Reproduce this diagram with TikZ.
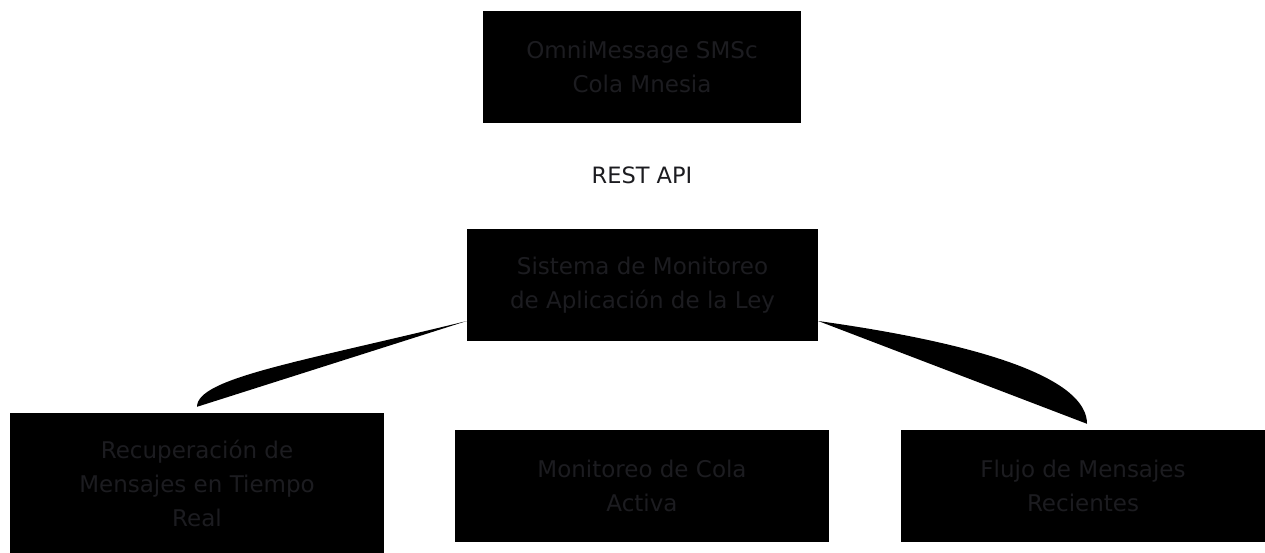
\documentclass[tikz,border=0pt]{standalone}
\usepackage{fontspec}
\setmainfont{DejaVu Sans}
\definecolor{txt}{RGB}{28,28,32}
\begin{document}
\begin{tikzpicture}[x=1pt,y=-1pt,
  box/.style={fill=black,draw=none,inner sep=0pt,align=center,text=txt,
    font=\fontsize{23}{34}\selectfont},
  lbl/.style={inner sep=0pt,text=txt,font=\fontsize{22.5}{34}\selectfont},
  flow/.style={fill=black,draw=none}]
\useasboundingbox (0,0) rectangle (1265,553);
\node[box,minimum width=318pt,minimum height=112pt] (top) at (642,67) {OmniMessage SMSc\\Cola Mnesia};
\node[lbl] (api) at (642,175) {REST API};
\node[box,minimum width=351pt,minimum height=112pt] (mid) at (642.5,285) {Sistema de Monitoreo\\de Aplicación de la Ley};
\node[box,minimum width=374pt,minimum height=140pt] (bl) at (197,483) {Recuperación de\\Mensajes en Tiempo\\Real};
\node[box,minimum width=374pt,minimum height=112pt] (bm) at (642,486) {Monitoreo de Cola\\Activa};
\node[box,minimum width=364pt,minimum height=112pt] (br) at (1083,486) {Flujo de Mensajes\\Recientes};
\fill[flow] ([yshift=-36pt]mid.west) .. controls (300,362) and (197,378) .. ([yshift=6pt]bl.north) -- cycle;
\fill[flow] ([yshift=-36pt]mid.east) .. controls (990,345) and (1087,380) .. ([xshift=4pt,yshift=6pt]br.north) -- cycle;
\end{tikzpicture}
\end{document}
